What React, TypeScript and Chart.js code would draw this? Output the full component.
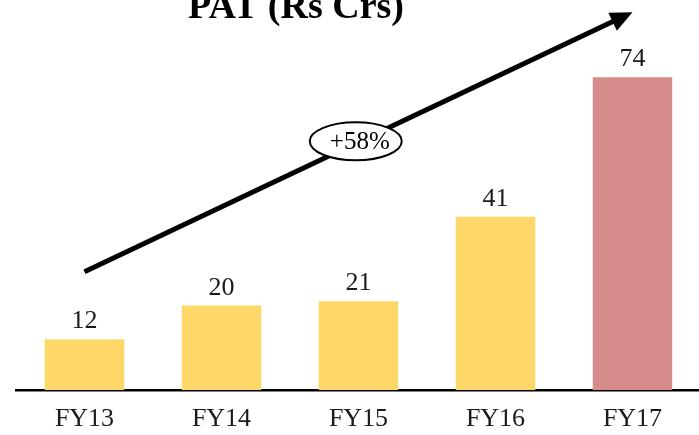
import React, { useEffect, useRef } from "react";
import { Chart, registerables } from "chart.js";

Chart.register(...registerables);

const categories = ["FY13", "FY14", "FY15", "FY16", "FY17"];
const patValues = [12, 20, 21, 41, 74];
const barColors = ["#FDD768", "#FDD768", "#FDD768", "#FDD768", "#D68C8A"];
const titleText = "PAT (Rs Crs)";
const growthLabel = "+58%";
const arrowStartValue = 28;
const arrowEndValue = 89.4;

const SERIF = "'Liberation Serif', 'Times New Roman', serif";

const overlayPlugin = {
  id: "overlay",
  afterDatasetsDraw(chart: any) {
    const ctx = chart.ctx;
    const xs = chart.scales.x;
    const ys = chart.scales.y;
    const meta = chart.getDatasetMeta(0);
    ctx.save();
    // data labels
    ctx.fillStyle = "#1a1a1a";
    ctx.font = `26px ${SERIF}`;
    ctx.textAlign = "center";
    ctx.textBaseline = "alphabetic";
    meta.data.forEach((bar: any, i: number) => {
      ctx.fillText(String(patValues[i]), bar.x, bar.y - 11);
    });
    // title
    ctx.font = `bold 38px ${SERIF}`;
    ctx.fillStyle = "#000";
    ctx.fillText(titleText, 296, 18);
    // arrow
    const x0 = xs.getPixelForValue(0);
    const y0 = ys.getPixelForValue(arrowStartValue);
    const x1 = xs.getPixelForValue(categories.length - 1);
    const y1 = ys.getPixelForValue(arrowEndValue);
    const ang = Math.atan2(y1 - y0, x1 - x0);
    const headLen = 22;
    const headHalf = 10;
    const bx = x1 - headLen * Math.cos(ang);
    const by = y1 - headLen * Math.sin(ang);
    ctx.strokeStyle = "#000";
    ctx.lineWidth = 5;
    ctx.beginPath();
    ctx.moveTo(x0, y0);
    ctx.lineTo(bx + 2 * Math.cos(ang), by + 2 * Math.sin(ang));
    ctx.stroke();
    ctx.fillStyle = "#000";
    ctx.beginPath();
    ctx.moveTo(x1, y1);
    ctx.lineTo(bx + headHalf * Math.sin(ang), by - headHalf * Math.cos(ang));
    ctx.lineTo(bx - headHalf * Math.sin(ang), by + headHalf * Math.cos(ang));
    ctx.closePath();
    ctx.fill();
    // ellipse label
    const t = 0.495;
    const cx = x0 + (x1 - x0) * t;
    const cy = y0 + (y1 - y0) * t - 2;
    ctx.beginPath();
    ctx.ellipse(cx, cy, 46, 19, 0, 0, Math.PI * 2);
    ctx.fillStyle = "#fff";
    ctx.fill();
    ctx.lineWidth = 2;
    ctx.strokeStyle = "#000";
    ctx.stroke();
    ctx.fillStyle = "#000";
    ctx.font = `25px ${SERIF}`;
    ctx.textAlign = "center";
    ctx.textBaseline = "middle";
    ctx.fillText(growthLabel, cx + 4, cy + 1);
    ctx.restore();
  },
};

export default function App() {
  const ref = useRef<HTMLCanvasElement | null>(null);
  useEffect(() => {
    if (!ref.current) return;
    const chart = new Chart(ref.current, {
      type: "bar",
      data: {
        labels: categories,
        datasets: [
          {
            data: patValues,
            backgroundColor: barColors,
            borderWidth: 0,
            barPercentage: 1,
            categoryPercentage: 0.58,
          },
        ],
      },
      options: {
        animation: false,
        responsive: false,
        maintainAspectRatio: false,
        layout: { padding: { top: 52, left: 16, right: 0, bottom: 0 } },
        plugins: {
          legend: { display: false },
          title: { display: false },
          tooltip: { enabled: false },
        },
        scales: {
          x: {
            grid: { display: false, drawTicks: false },
            border: { display: true, color: "#000", width: 2.5 },
            ticks: {
              color: "#1a1a1a",
              font: { family: SERIF, size: 26 },
              padding: 14,
              maxRotation: 0,
            },
            afterFit(scale: any) {
              scale.height = 45;
            },
          },
          y: {
            display: false,
            min: 0,
            max: 80,
          },
        },
      },
      plugins: [overlayPlugin],
    });
    return () => chart.destroy();
  }, []);
  return (
    <div
      style={{
        position: "fixed",
        left: 0,
        top: 0,
        width: 699,
        height: 435,
        overflow: "hidden",
        background: "#fff",
      }}
    >
      <canvas ref={ref} width={701} height={435} style={{ display: "block" }} />
    </div>
  );
}
